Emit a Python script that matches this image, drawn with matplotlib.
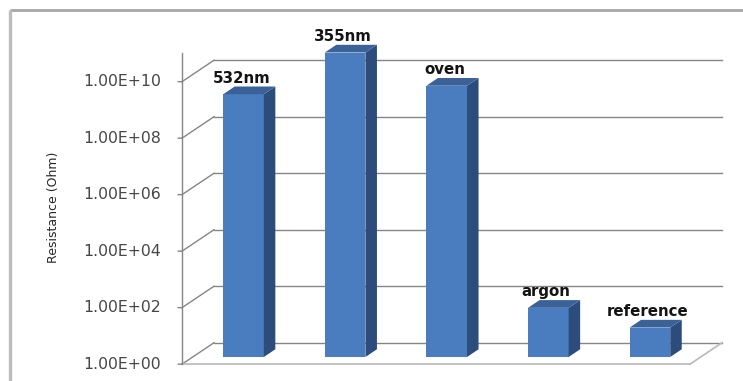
import matplotlib
matplotlib.use("Agg")
import matplotlib.pyplot as plt
from matplotlib.patches import Polygon
from matplotlib.lines import Line2D
import numpy as np

# ---- data -------------------------------------------------------------
categories = ["532nm", "355nm", "oven", "argon", "reference"]
resistance = [2.0e9, 6.0e10, 4.0e9, 55, 11]
tick_values = [1e0, 1e2, 1e4, 1e6, 1e8, 1e10]
tick_labels = ["1.00E+00", "1.00E+02", "1.00E+04", "1.00E+06", "1.00E+08", "1.00E+10"]
axis_title = "Resistance (Ohm)"

# ---- styling ----------------------------------------------------------
W, H, DPI = 743, 381, 100
FRONT = "#4A7DBF"
SIDE = "#2C4C7C"
TOP = "#3A6198"
GRID = "#858585"
FLOOR = "#BDBDBD"

# oblique depth vector (data units: categories along x, decades along y)
DEPTH_X = 0.315
DEPTH_DEC = 0.76
AXIS_DEPTH = -1 / 3     # front edge of the floor / value axis
BAR_BACK = 0.36          # rear of each column
WALL_DEPTH = 2 / 3       # back wall carrying the gridlines
BAR_WIDTH = 0.40
Y_MIN, Y_MAX = 1.0, 1e12
AXIS_TOP = 1e11


def proj(x, v, depth):
    """Shift a data point (x, v) along the oblique depth axis."""
    return (x + DEPTH_X * depth, v * 10 ** (DEPTH_DEC * depth))


fig = plt.figure(figsize=(W / DPI, H / DPI), dpi=DPI)
fig.patch.set_facecolor("white")

# plot plane of the column fronts
left_px, right_px = 192.7, 700.7
bottom_px, top_px = 357.0, 18.0
ax = fig.add_axes([left_px / W, 1 - bottom_px / H,
                   (right_px - left_px) / W, (bottom_px - top_px) / H])
ax.set_yscale("log")
ax.set_xlim(-0.5, len(categories) - 0.5)
ax.set_ylim(Y_MIN, Y_MAX)
ax.axis("off")

x = np.arange(len(categories))
x0, x1 = -0.5, len(categories) - 0.5


def seg(p, q, **kw):
    ax.add_line(Line2D([p[0], q[0]], [p[1], q[1]], clip_on=False, **kw))


# back-wall gridlines and side-wall diagonals
for v in tick_values:
    seg(proj(x0, v, WALL_DEPTH), proj(x1, v, WALL_DEPTH), color=GRID, lw=1.0, zorder=1)
    seg(proj(x0, v, AXIS_DEPTH), proj(x0, v, WALL_DEPTH), color=GRID, lw=1.0, zorder=1)

# floor outline
seg(proj(x0, Y_MIN, AXIS_DEPTH), proj(x1, Y_MIN, AXIS_DEPTH), color=FLOOR, lw=1.3, zorder=1)
seg(proj(x1, Y_MIN, AXIS_DEPTH), proj(x1, Y_MIN, WALL_DEPTH), color=FLOOR, lw=1.3, zorder=1)

# value axis line, ticks and labels
seg(proj(x0, Y_MIN, AXIS_DEPTH), proj(x0, AXIS_TOP, AXIS_DEPTH), color=GRID, lw=1.0, zorder=2)
for v, lab in zip(tick_values, tick_labels):
    px, py = proj(x0, v, AXIS_DEPTH)
    ax.annotate("", xy=(px, py), xytext=(-4, 0), textcoords="offset pixels",
                arrowprops=dict(arrowstyle="-", color=GRID, lw=1.0,
                                shrinkA=0, shrinkB=0), annotation_clip=False)
    ax.annotate(lab, xy=(px, py), xytext=(-21, 0), textcoords="offset pixels",
                ha="right", va="center", fontsize=11.3, color="#474747",
                family="DejaVu Sans", annotation_clip=False)

# columns: front faces through the bar API, side and top faces as polygons
ax.bar(x, [v - Y_MIN for v in resistance], bottom=Y_MIN, width=BAR_WIDTH,
       color=FRONT, edgecolor="none", zorder=3)
for xi, v, name in zip(x, resistance, categories):
    xl, xr = xi - BAR_WIDTH / 2, xi + BAR_WIDTH / 2
    side = [(xr, Y_MIN), (xr, v), proj(xr, v, BAR_BACK), proj(xr, Y_MIN, BAR_BACK)]
    top = [(xl, v), (xr, v), proj(xr, v, BAR_BACK), proj(xl, v, BAR_BACK)]
    ax.add_patch(Polygon(side, closed=True, facecolor=SIDE, edgecolor="none",
                         zorder=3, clip_on=False))
    ax.add_patch(Polygon(top, closed=True, facecolor=TOP, edgecolor="none",
                         zorder=3, clip_on=False))
    lx, ly = xi, proj(xi, v, BAR_BACK)[1]
    ax.annotate(name, xy=(lx, ly), xytext=(-2, 4), textcoords="offset pixels",
                ha="center", va="baseline", fontsize=10.8, fontweight="bold",
                color="#141414", family="DejaVu Sans", annotation_clip=False)

# axis title
fig.text(53 / W, 1 - 207 / H, axis_title, rotation=90, ha="center", va="center",
         fontsize=9, color="#262626", family="DejaVu Sans")

# chart-area frame (top and left edges)
fig.add_artist(Line2D([9.5 / W, 1.0], [1 - 9.5 / H, 1 - 9.5 / H],
                      transform=fig.transFigure, color="#A6A6A6", lw=2.0,
                      solid_capstyle="butt"))
fig.add_artist(Line2D([9.5 / W, 9.5 / W], [0.0, 1 - 9.5 / H],
                      transform=fig.transFigure, color="#BDBDBD", lw=2.4,
                      solid_capstyle="butt"))

fig.savefig("out.png", dpi=DPI, facecolor="white")
